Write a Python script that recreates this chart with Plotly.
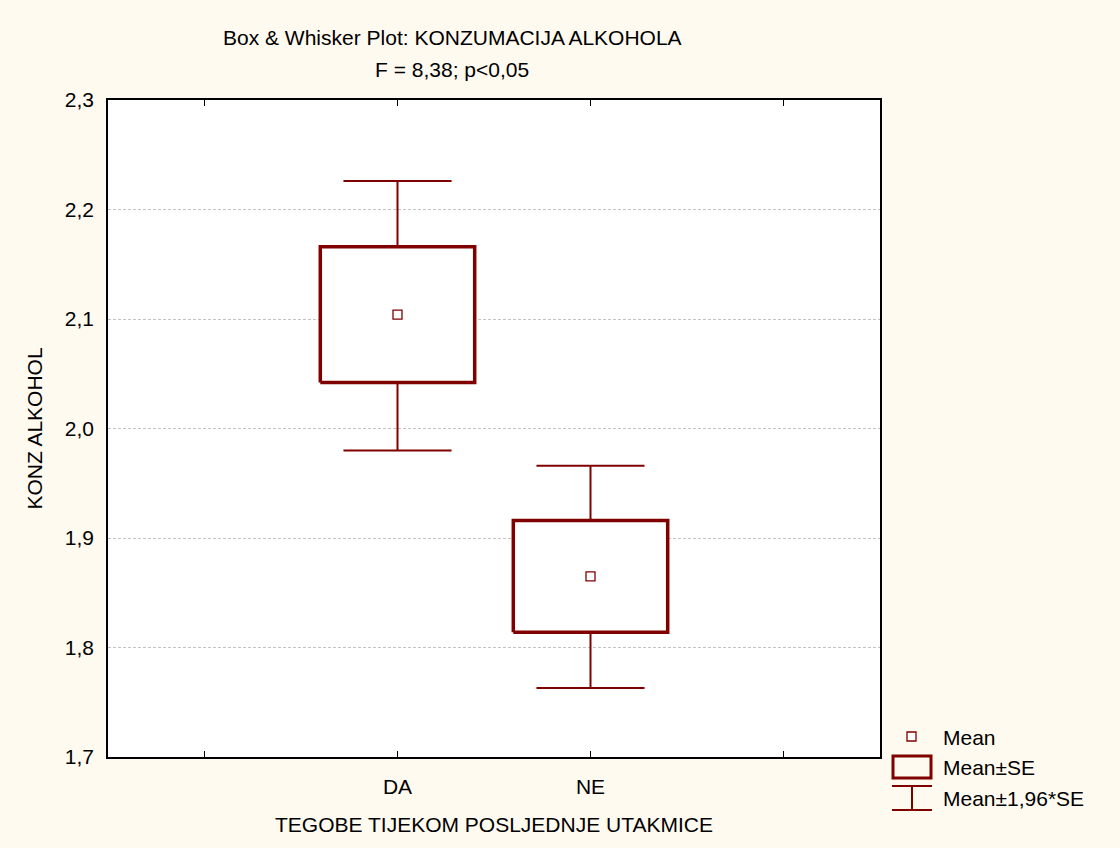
import plotly.graph_objects as go

categories = ["DA", "NE"]
means = [2.104, 1.865]
se_low = [2.042, 1.814]
se_high = [2.166, 1.916]
ci_low = [1.980, 1.763]
ci_high = [2.226, 1.966]
y_ticks = [1.7, 1.8, 1.9, 2.0, 2.1, 2.2, 2.3]

RED = "#800000"
FONT = "Liberation Sans, Arial, sans-serif"
FS = 21
W, H = 1120, 848
ML, MR, MT, MB = 108, 240, 100, 91
BOX_HALF = 0.4
CAP_HALF = 0.28

fig = go.Figure()
for i, cat in enumerate(categories):
    xc = i + 1
    fig.add_trace(go.Scatter(x=[xc, xc], y=[ci_low[i], ci_high[i]], mode="lines",
                             line=dict(color=RED, width=2), showlegend=False, hoverinfo="skip"))
    for yv in (ci_low[i], ci_high[i]):
        fig.add_trace(go.Scatter(x=[xc - CAP_HALF, xc + CAP_HALF], y=[yv, yv], mode="lines",
                                 line=dict(color=RED, width=2), showlegend=False, hoverinfo="skip"))
    fig.add_trace(go.Scatter(
        x=[xc - BOX_HALF, xc + BOX_HALF, xc + BOX_HALF, xc - BOX_HALF, xc - BOX_HALF],
        y=[se_low[i], se_low[i], se_high[i], se_high[i], se_low[i]],
        mode="lines", fill="toself", fillcolor="white",
        line=dict(color=RED, width=3.5), showlegend=False, hoverinfo="skip"))
    fig.add_trace(go.Scatter(x=[xc], y=[means[i]], mode="markers",
                             marker=dict(symbol="square", size=9, color="white",
                                         line=dict(color=RED, width=1.3)),
                             showlegend=False, name=cat))


def px(x):
    return (x - ML) / (W - ML - MR)


def py(y):
    return (H - MB - y) / (H - MT - MB)


shapes = []
annotations = []
shapes.append(dict(type="rect", xref="paper", yref="paper",
                   x0=px(907), x1=px(916), y0=py(741), y1=py(732),
                   line=dict(color=RED, width=1.3), fillcolor="white"))
shapes.append(dict(type="rect", xref="paper", yref="paper",
                   x0=px(893), x1=px(931), y0=py(778), y1=py(756),
                   line=dict(color=RED, width=3), fillcolor="rgba(0,0,0,0)"))
shapes.append(dict(type="line", xref="paper", yref="paper",
                   x0=px(892), x1=px(932), y0=py(786), y1=py(786), line=dict(color=RED, width=2)))
shapes.append(dict(type="line", xref="paper", yref="paper",
                   x0=px(892), x1=px(932), y0=py(810), y1=py(810), line=dict(color=RED, width=2)))
shapes.append(dict(type="line", xref="paper", yref="paper",
                   x0=px(912), x1=px(912), y0=py(786), y1=py(810), line=dict(color=RED, width=2)))
for label, yy in [("Mean", 737), ("Mean±SE", 767), ("Mean±1,96*SE", 798)]:
    annotations.append(dict(text=label, xref="paper", yref="paper", x=px(941), y=py(yy),
                            xanchor="left", yanchor="middle", showarrow=False,
                            font=dict(family=FONT, size=FS, color="black")))
annotations.append(dict(text="Box & Whisker Plot: KONZUMACIJA ALKOHOLA", xref="paper", yref="paper",
                        x=px(452), y=py(38), xanchor="center", yanchor="middle", showarrow=False,
                        font=dict(family=FONT, size=FS, color="black")))
annotations.append(dict(text="F = 8,38; p<0,05", xref="paper", yref="paper",
                        x=px(452), y=py(70), xanchor="center", yanchor="middle", showarrow=False,
                        font=dict(family=FONT, size=FS, color="black")))

fig.update_layout(
    width=W, height=H,
    margin=dict(l=ML, r=MR, t=MT, b=MB, pad=0),
    paper_bgcolor="#FFFAF0",
    plot_bgcolor="white",
    separators=",.",
    font=dict(family=FONT, size=FS, color="black"),
    shapes=shapes,
    annotations=annotations,
    xaxis=dict(range=[-0.5, 3.5], tickvals=[0, 1, 2, 3], ticktext=[""] + categories + [""],
               showgrid=False, zeroline=False, showline=True, linecolor="black", linewidth=1.5,
               mirror="ticks", ticks="inside", ticklen=6, tickcolor="black",
               ticklabelstandoff=10,
               tickfont=dict(family=FONT, size=FS),
               title=dict(text="TEGOBE TIJEKOM POSLJEDNJE UTAKMICE", standoff=20,
                          font=dict(family=FONT, size=FS))),
    yaxis=dict(range=[1.7, 2.3], tickvals=y_ticks, tickformat=".1f",
               showgrid=True, gridcolor="#c4c4c4", griddash="3px,2px", gridwidth=1,
               zeroline=False, showline=True, linecolor="black", linewidth=1.5,
               mirror=True, ticks="", tickfont=dict(family=FONT, size=FS),
               ticklabelstandoff=8,
               title=dict(text="KONZ ALKOHOL", standoff=16, font=dict(family=FONT, size=FS))),
)

fig.write_html("out.html", config={"displayModeBar": False},
               post_script="document.body.style.margin='0';document.body.style.overflow='hidden';")
